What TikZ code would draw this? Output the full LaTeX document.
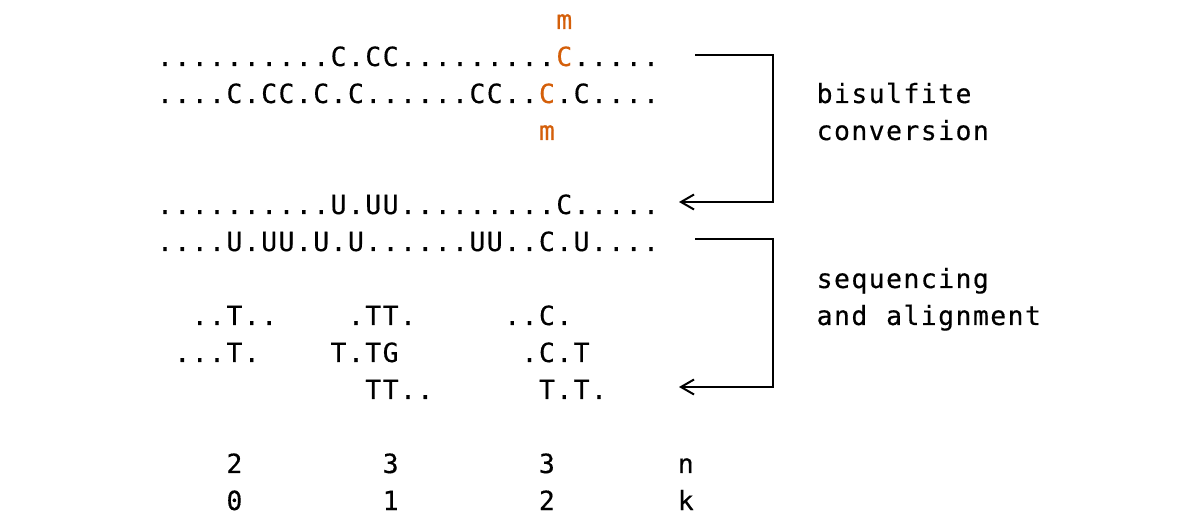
\documentclass[tikz,border=0pt]{standalone}
\usepackage{fontspec}
\newfontfamily\seqfont{DejaVu Sans Mono}[FakeBold=0.4]
\usetikzlibrary{arrows.meta}
\definecolor{orng}{RGB}{212,95,10}
\newlength\gpitch
\setlength\gpitch{8.68pt}
\def\grch#1{\ifx#1_\makebox[\gpitch]{}\else\ifx#1*\makebox[\gpitch]{\color{orng}C}\else\makebox[\gpitch]{#1}\fi\fi}
\def\grloop#1{\ifx#1\relax\else\grch{#1}\expandafter\grloop\fi}
\def\gr#1{\grloop#1\relax}
\tikzset{
  seqrow/.style={anchor=base west, inner sep=0pt, outer sep=0pt,
    font=\seqfont\fontsize{13.2pt}{13.2pt}\selectfont},
  mark m/.style={seqrow, text=orng},
  bracket/.style={line width=1pt, draw=black},
  bracketarrow/.style={bracket, -{Straight Barb[length=6.5pt,width=7.5pt,line width=1pt]}}
}
\begin{document}
\begin{tikzpicture}[x=0.5pt,y=-0.5pt]
\useasboundingbox (0,0) rectangle (1193,517);
% column c left edge = 156.32 + 17.36 c ; baseline row r = 29 + 37 r
\node[mark m] (m0) at (555.6,29) {\gr{m}};
\node[seqrow] (r1) at (156.32,66) {\gr{..........C.CC.........*.....}};
\node[seqrow] (r2) at (156.32,103) {\gr{....C.CC.C.C......CC..*.C....}};
\node[mark m] (m3) at (538.24,140) {\gr{m}};
\node[seqrow] (r5) at (156.32,214) {\gr{..........U.UU.........C.....}};
\node[seqrow] (r6) at (156.32,251) {\gr{....U.UU.U.U......UU..C.U....}};
\node[seqrow] (r8) at (156.32,325) {\gr{__..T..____.TT._____..C.}};
\node[seqrow] (r9) at (156.32,362) {\gr{_...T.____T.TG_______.C.T}};
\node[seqrow] (r10) at (156.32,399) {\gr{____________TT..______T.T.}};
\node[seqrow] (r12) at (156.32,473) {\gr{____2________3________3_______n}};
\node[seqrow] (r13) at (156.32,510) {\gr{____0________1________2_______k}};
% labels
\node[seqrow] (l1) at (815.97,103) {\gr{bisulfite}};
\node[seqrow] (l2) at (815.97,140) {\gr{conversion}};
\node[seqrow] (l3) at (815.97,288) {\gr{sequencing}};
\node[seqrow] (l4) at (815.97,325) {\gr{and_alignment}};
% brackets
\coordinate (b1s) at (695,55);
\coordinate (b1c) at (773,55);
\coordinate (b1d) at (773,202);
\coordinate (b1e) at (679,202);
\coordinate (b2s) at (695,239);
\coordinate (b2c) at (773,239);
\coordinate (b2d) at (773,387);
\coordinate (b2e) at (679,387);
\draw[bracketarrow] (b1s) -- (b1c) -- (b1d) -- (b1e);
\draw[bracketarrow] (b2s) -- (b2c) -- (b2d) -- (b2e);
\end{tikzpicture}
\end{document}
